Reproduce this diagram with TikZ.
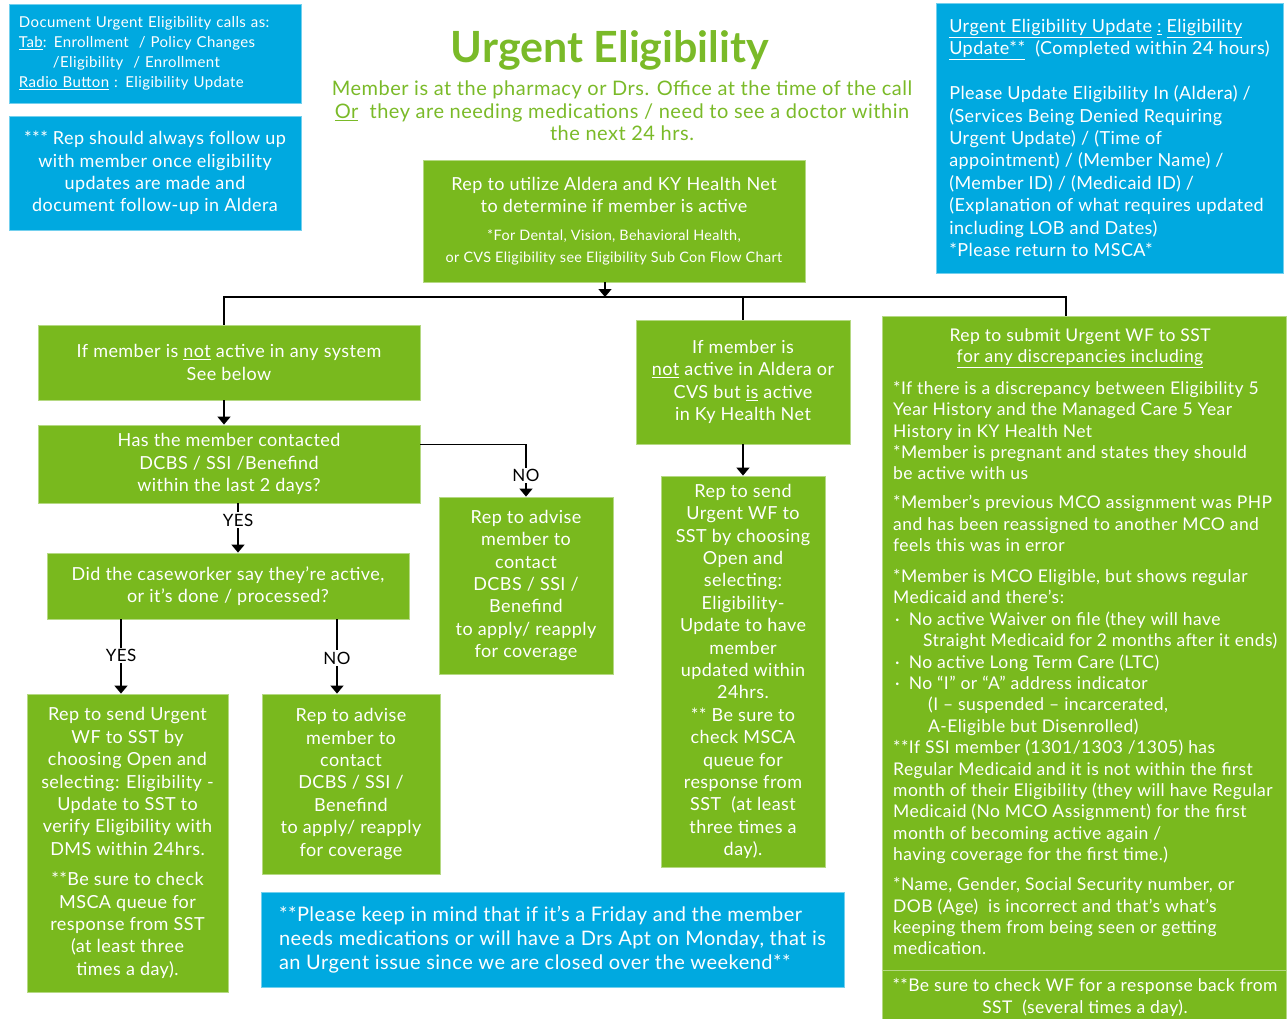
\documentclass[tikz,border=0pt]{standalone}
\usepackage{fontspec}
\setmainfont{Lato}[LetterSpace=2.5]
\newfontfamily\titlefont{Lato}
\usetikzlibrary{arrows.meta, positioning, calc}

\definecolor{ueGreen}{RGB}{121,185,30}
\definecolor{ueTitle}{RGB}{122,186,40}
\definecolor{ueBlue}{RGB}{0,169,224}

\newcommand\bodyfont{\fontsize{18}{22.4}\selectfont}
\newcommand\smallbodyfont{\fontsize{14.4}{21}\selectfont}
\newcommand\notefont{\fontsize{15}{19.8}\selectfont}
\newcommand\discrfont{\fontsize{17.5}{21.4}\selectfont}
\newcommand\weekfont{\fontsize{20}{24}\selectfont}
\newcommand\bul{\hspace*{2pt}·\hspace{9pt}}

\begin{document}
\begin{tikzpicture}[
        x=1pt, y=-1pt,
        greenbox/.style={
            draw=ueGreen!55!white,
            line width=0.8pt,
            fill=ueGreen,
            text=white,
            align=center,
            inner sep=0pt,
            font=\bodyfont
        },
        bluebox/.style={
            greenbox,
            draw=ueBlue!55!white,
            fill=ueBlue
        },
        flowline/.style={
            line width=1.6pt,
            black
        },
        flowarrow/.style={
            flowline,
            -{Triangle[width=13pt,length=8pt]}
        },
        answer/.style={
            font=\fontsize{17}{20}\selectfont,
            fill=white,
            inner sep=1.5pt
        },
        sepline/.style={
            line width=0.8pt,
            ueGreen!55!white
        }
    ]

        \useasboundingbox (0,0) rectangle (1288,1019);

        % ---------------------------------------------------------------------
        % Heading and notes
        % ---------------------------------------------------------------------

        \node[
            font=\titlefont\fontsize{43}{50}\selectfont\bfseries,
            text=ueTitle
        ] (title) at (610,50) {Urgent Eligibility};

        \node[
            font=\fontsize{20}{22.5}\selectfont,
            text=ueTitle,
            align=center
        ] (subtitle) at (622,111) {
            Member is at the pharmacy or Drs. Office at the time of the call\\
            \underline{Or}\ \ they are needing medications / need to see a doctor within\\
            the next 24 hrs.
        };

        \node[
            bluebox,
            font=\notefont,
            align=left,
            text width=272pt,
            inner xsep=10pt,
            minimum height=99pt
        ] (calls) at (155,53.5) {
            Document Urgent Eligibility calls as:\\
            \underline{Tab}: Enrollment \ / Policy Changes\\
            \hspace*{34pt}/Eligibility \ / Enrollment\\
            \underline{Radio Button} : Eligibility Update
        };

        \node[
            bluebox,
            minimum width=292pt,
            minimum height=114pt
        ] (followup) at (155,173) {
            *** Rep should always follow up\\
            with member once eligibility\\
            updates are made and\\
            document follow-up in Aldera
        };

        \node[
            bluebox,
            align=left,
            minimum width=347pt,
            minimum height=270pt
        ] (updateinfo) at (1109.5,138) {
            \underline{Urgent Eligibility Update} \underline{:} \underline{Eligibility}\\
            \underline{Update**}\ \ (Completed within 24 hours)\\[22.4pt]
            Please Update Eligibility In (Aldera) /\\
            (Services Being Denied Requiring\\
            Urgent Update) / (Time of\\
            appointment) / (Member Name) /\\
            (Member ID) / (Medicaid ID) /\\
            (Explanation of what requires updated\\
            including LOB and Dates)\\
            {}*Please return to MSCA*
        };

        % ---------------------------------------------------------------------
        % Flow boxes
        % ---------------------------------------------------------------------

        \node[
            greenbox,
            minimum width=382pt,
            minimum height=122pt
        ] (utilize) at (614,221) {
            Rep to utilize Aldera and KY Health Net\\
            to determine if member is active\\[5pt]
            {\smallbodyfont *For Dental, Vision, Behavioral Health,}\\
            {\smallbodyfont or CVS Eligibility see Eligibility Sub Con Flow Chart}
        };

        \node[
            greenbox,
            minimum width=382pt,
            minimum height=75pt
        ] (notany) at (229,362.5) {
            If member is \underline{not} active in any system\\
            See below
        };

        \node[
            greenbox,
            minimum width=382pt,
            minimum height=78pt
        ] (contacted) at (229,464) {
            Has the member contacted\\
            DCBS / SSI /Benefind\\
            within the last 2 days?
        };

        \node[
            greenbox,
            minimum width=174pt,
            minimum height=177pt
        ] (advise1) at (526,585.5) {
            Rep to advise\\
            member to\\
            contact\\
            DCBS / SSI /\\
            Benefind\\
            to apply/ reapply\\
            for coverage
        };

        \node[
            greenbox,
            minimum width=362pt,
            minimum height=66pt
        ] (caseworker) at (228,586) {
            Did the caseworker say they’re active,\\
            or it’s done / processed?
        };

        \node[
            greenbox,
            minimum width=201pt,
            minimum height=298pt
        ] (sendwf1) at (127.5,843) {
            Rep to send Urgent\\
            WF to SST by\\
            choosing Open and\\
            selecting: Eligibility -\\
            Update to SST to\\
            verify Eligibility with\\
            DMS within 24hrs.\\[8pt]
            {}**Be sure to check\\
            MSCA queue for\\
            response from SST\\
            (at least three\\
            times a day).
        };

        \node[
            greenbox,
            minimum width=178pt,
            minimum height=180pt
        ] (advise2) at (351,784) {
            Rep to advise\\
            member to\\
            contact\\
            DCBS / SSI /\\
            Benefind\\
            to apply/ reapply\\
            for coverage
        };

        \node[
            greenbox,
            minimum width=214pt,
            minimum height=124pt
        ] (aldera) at (743,382) {
            If member is\\
            \underline{not} active in Aldera or\\
            CVS but \underline{is} active\\
            in Ky Health Net
        };

        \node[
            greenbox,
            minimum width=164pt,
            minimum height=391pt
        ] (sendwf2) at (743,671.5) {
            Rep to send\\
            Urgent WF to\\
            SST by choosing\\
            Open and\\
            selecting:\\
            Eligibility-\\
            Update to have\\
            member\\
            updated within\\
            24hrs.\\
            {}** Be sure to\\
            check MSCA\\
            queue for\\
            response from\\
            SST\ \ (at least\\
            three times a\\
            day).
        };

        \node[
            bluebox,
            font=\weekfont,
            align=left,
            minimum width=583pt,
            minimum height=95pt
        ] (weekend) at (552.5,939.5) {
            **Please keep in mind that if it’s a Friday and the member\\
            needs medications or will have a Drs Apt on Monday, that is\\
            an Urgent issue since we are closed over the weekend**
        };

        % ---------------------------------------------------------------------
        % Discrepancy box
        % ---------------------------------------------------------------------

        \node[
            greenbox,
            minimum width=404pt,
            minimum height=703pt
        ] (discr) at (1084,667.5) {};

        \node[
            font=\discrfont,
            text=white,
            align=center
        ] (discrhead) at (1080,348) {
            Rep to submit Urgent WF to SST\\
            \underline{for any discrepancies including}
        };

        \node[
            font=\discrfont,
            text=white,
            align=left,
            anchor=north west,
            inner sep=0pt
        ] (discrbody) at (893,381) {
            {}*If there is a discrepancy between Eligibility 5\\
            Year History and the Managed Care 5 Year\\
            History in KY Health Net\\
            {}*Member is pregnant and states they should\\
            be active with us\\[7.5pt]
            {}*Member’s previous MCO assignment was PHP\\
            and has been reassigned to another MCO and\\
            feels this was in error\\[9.5pt]
            {}*Member is MCO Eligible, but shows regular\\
            Medicaid and there’s:\\
            \bul No active Waiver on file (they will have\\
            \hspace*{30pt}Straight Medicaid for 2 months after it ends)\\
            \bul No active Long Term Care (LTC)\\
            \bul No “I” or “A” address indicator\\
            \hspace*{35pt}(I – suspended – incarcerated,\\
            \hspace*{35pt}A-Eligible but Disenrolled)\\
            {}**If SSI member (1301/1303 /1305) has\\
            Regular Medicaid and it is not within the first\\
            month of their Eligibility (they will have Regular\\
            Medicaid (No MCO Assignment) for the first\\
            month of becoming active again /\\
            having coverage for the first time.)\\[8.5pt]
            {}*Name, Gender, Social Security number, or\\
            DOB (Age)\ \ is incorrect and that’s what’s\\
            keeping them from being seen or getting\\
            medication.
        };

        \draw[sepline]
            ($(discr.south west)+(0,-49)$) -- ($(discr.south east)+(0,-49)$);

        \node[
            font=\discrfont,
            text=white,
            align=center
        ] (discrfoot) at (1085,997.5) {
            **Be sure to check WF for a response back from\\
            SST\ \ (several times a day).
        };

        % ---------------------------------------------------------------------
        % Connectors
        % ---------------------------------------------------------------------

        \coordinate (split) at (605,297);

        \draw[flowarrow] ([xshift=-9pt]utilize.south) -- (split);
        \draw[flowline] ([xshift=-5pt]notany.north) |- (split);
        \draw[flowline] (split) -| ([xshift=-18pt]discr.north);
        \draw[flowline] (aldera.north) -- (aldera.north |- split);

        \draw[flowarrow] ([xshift=-5pt]notany.south) -- ([xshift=-5pt]contacted.north);

        \draw[flowarrow]
            ($(contacted.north east)!0.25!(contacted.south east)$)
            -| node[answer, pos=0.8] {NO}
            (advise1.north);

        \draw[flowarrow]
            ([xshift=9pt]contacted.south)
            -- node[answer, pos=0.34] {YES}
            ([xshift=10pt]caseworker.north);

        \draw[flowarrow]
            ([xshift=-107pt]caseworker.south)
            -- node[answer, pos=0.49] {YES}
            ([xshift=-6.5pt]sendwf1.north);

        \draw[flowarrow]
            ([xshift=109pt]caseworker.south)
            -- node[answer, pos=0.52] {NO}
            ([xshift=-14pt]advise2.north);

        \draw[flowarrow] (aldera.south) -- (sendwf2.north);

    \end{tikzpicture}
\end{document}
